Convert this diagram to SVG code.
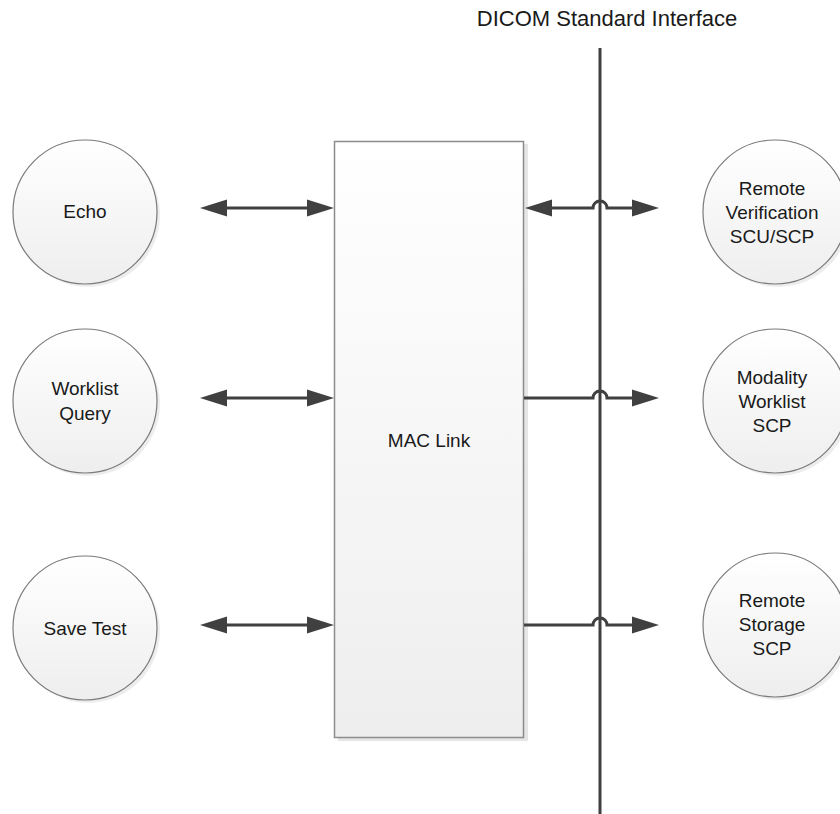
<svg xmlns="http://www.w3.org/2000/svg" width="840" height="814" viewBox="0 0 840 814">
<style>
  text { font-family: "Liberation Sans", Arial, sans-serif; fill: #1a1a1a; text-anchor: middle; }
  .lbl { font-size: 19px; }
  .title { font-size: 22px; }
  .node { fill: url(#cg); stroke: #7a7a7a; stroke-width: 1.2; }
  .shadow { fill: #000; opacity: 0.07; }
  .conn { fill: none; stroke: #404040; stroke-width: 3; }
  .both { marker-start: url(#ah); marker-end: url(#ah); }
  .one { marker-end: url(#ah); }
</style>
<defs>
  <linearGradient id="cg" x1="0" y1="0" x2="0" y2="1">
    <stop offset="0" stop-color="#ffffff"/>
    <stop offset="1" stop-color="#eeeeee"/>
  </linearGradient>
  <linearGradient id="rg" x1="0" y1="0" x2="0" y2="1">
    <stop offset="0" stop-color="#ffffff"/>
    <stop offset="1" stop-color="#eeeeee"/>
  </linearGradient>
  <marker id="ah" markerUnits="userSpaceOnUse" markerWidth="28" markerHeight="18" refX="0" refY="8.5" orient="auto-start-reverse" overflow="visible">
    <path d="M0,0 L27,8.5 L0,17 z" fill="#404040"/>
  </marker>
</defs>

<rect width="840" height="814" fill="#ffffff"/>

<g id="title">
  <text class="title" x="607" y="26">DICOM Standard Interface</text>
</g>

<g id="mac-link">
  <rect x="338" y="144" width="190" height="597" fill="#e6e6e6"/>
  <rect x="334.5" y="141.5" width="189" height="596" fill="url(#rg)" stroke="#8c8c8c" stroke-width="1.5"/>
  <text class="lbl" x="429" y="447">MAC Link</text>
</g>

<g id="echo">
  <circle class="shadow" cx="88" cy="215" r="72"/>
  <circle class="node" cx="85" cy="212" r="72"/>
  <text class="lbl" x="85" y="218">Echo</text>
</g>

<g id="worklist-query">
  <circle class="shadow" cx="88" cy="404" r="72"/>
  <circle class="node" cx="85" cy="401" r="72"/>
  <text class="lbl" x="85" y="395">Worklist</text>
  <text class="lbl" x="85" y="420">Query</text>
</g>

<g id="save-test">
  <circle class="shadow" cx="88" cy="631" r="72"/>
  <circle class="node" cx="85" cy="628" r="72"/>
  <text class="lbl" x="85" y="635">Save Test</text>
</g>

<g id="remote-verification">
  <circle class="shadow" cx="778" cy="215" r="72"/>
  <circle class="node" cx="775" cy="212" r="72"/>
  <text class="lbl" x="772" y="195">Remote</text>
  <text class="lbl" x="772" y="219">Verification</text>
  <text class="lbl" x="772" y="243">SCU/SCP</text>
</g>

<g id="modality-worklist">
  <circle class="shadow" cx="778" cy="404" r="72"/>
  <circle class="node" cx="775" cy="401" r="72"/>
  <text class="lbl" x="772" y="384">Modality</text>
  <text class="lbl" x="772" y="408">Worklist</text>
  <text class="lbl" x="772" y="432">SCP</text>
</g>

<g id="remote-storage">
  <circle class="shadow" cx="778" cy="628" r="72"/>
  <circle class="node" cx="775" cy="625" r="72"/>
  <text class="lbl" x="772" y="607">Remote</text>
  <text class="lbl" x="772" y="631">Storage</text>
  <text class="lbl" x="772" y="655">SCP</text>
</g>

<g id="connectors">
  <line x1="600" y1="48" x2="600" y2="814" stroke="#404040" stroke-width="3"/>
  <path class="conn both" d="M227,208 H307"/>
  <path class="conn both" d="M227,398 H307"/>
  <path class="conn both" d="M227,625 H307"/>
  <path class="conn both" d="M552,208 H593 A7,7 0 0 1 607,208 H632"/>
  <path class="conn one" d="M524,398 H593 A7,7 0 0 1 607,398 H632"/>
  <path class="conn one" d="M524,625 H593 A7,7 0 0 1 607,625 H632"/>
</g>
</svg>
